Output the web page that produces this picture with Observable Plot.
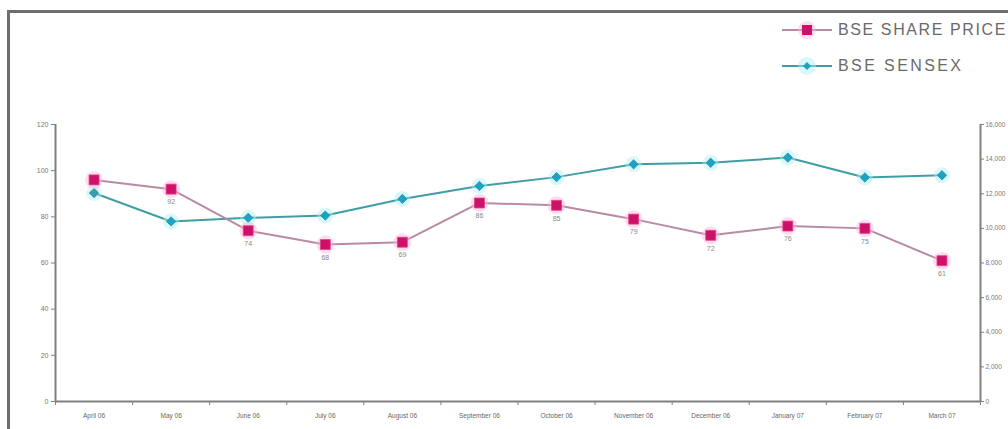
<!DOCTYPE html>
<html>
<head>
<meta charset="utf-8">
<script src="https://cdn.jsdelivr.net/npm/d3@7"></script>
<script src="https://cdn.jsdelivr.net/npm/@observablehq/plot@0.6"></script>
<style>
  html, body { margin: 0; padding: 0; background: #fff; overflow: hidden; }
  #wrap { position: relative; width: 1008px; height: 429px; overflow: hidden; font-family: "Liberation Sans", Arial, sans-serif; }
  #frame { position: absolute; left: 7px; top: 10px; width: 1100px; height: 500px; border-left: 3px solid #6e6e6e; border-top: 3px solid #6e6e6e; }
  #chart { position: absolute; left: 0; top: 0; }
  #legend { position: absolute; left: 782px; top: 19px; color: #6a6a6a; font-size: 16px; letter-spacing: 1.6px; white-space: nowrap; }
  .row { display: flex; align-items: center; height: 22px; margin-bottom: 14px; }
  .row svg { margin-right: 6px; }
  .row.second span { letter-spacing: 2.4px; }
</style>
</head>
<body>
<div id="wrap">
  <div id="frame"></div>
  <div id="chart"></div>
  <div id="legend"></div>
</div>
<script>
const months = ["April 06", "May 06", "June 06", "July 06", "August 06", "September 06", "October 06", "November 06", "December 06", "January 07", "February 07", "March 07"];
const sharePrice = [96, 92, 74, 68, 69, 86, 85, 79, 72, 76, 75, 61];
const sensex = [12040, 10400, 10610, 10740, 11700, 12450, 12960, 13700, 13790, 14090, 12940, 13070];
const leftTicks = [0, 20, 40, 60, 80, 100, 120];
const rightTicks = [0, 2000, 4000, 6000, 8000, 10000, 12000, 14000, 16000];
const seriesNames = ["BSE SHARE PRICE", "BSE SENSEX"];

const leftMax = 120, rightMax = 16000;
const toLeft = v => v / rightMax * leftMax;

const shareColor = "#cc1166", shareLine = "#b98aa2";
const sensexColor = "#1aa3c6", sensexLine = "#3f9ea4";

const rows = months.map((m, i) => ({pos: i + 0.5, month: m, share: sharePrice[i], sensex: toLeft(sensex[i])}));
const boundaries = d3.range(months.length + 1);

const chart = Plot.plot({
  width: 1008,
  height: 429,
  marginLeft: 55,
  marginRight: 28,
  marginTop: 124,
  marginBottom: 28,
  style: {fontFamily: "'Liberation Sans', Arial, sans-serif", background: "transparent", color: "#777"},
  x: {domain: [0, months.length]},
  y: {domain: [0, leftMax]},
  marks: [
    Plot.ruleY([0], {stroke: "#808080", strokeWidth: 2}),
    Plot.ruleX([0], {stroke: "#808080", strokeWidth: 2}),
    Plot.ruleX([months.length], {stroke: "#808080", strokeWidth: 2}),
    Plot.axisY({anchor: "left", ticks: leftTicks, tickSize: 4, tickPadding: 3, fontSize: 7, label: null, stroke: "#808080", fill: "#777"}),
    Plot.axisY({anchor: "right", ticks: rightTicks.map(toLeft), tickFormat: d => d3.format(",")(Math.round(d / leftMax * rightMax)), tickSize: 3, tickPadding: 2, fontSize: 6.5, label: null, stroke: "#808080", fill: "#777"}),
    Plot.axisX({ticks: boundaries, tickFormat: () => "", tickSize: 4, label: null, stroke: "#808080"}),
    Plot.axisX({ticks: rows.map(d => d.pos), tickFormat: d => months[Math.round(d - 0.5)], tickSize: 0, tickPadding: 12, fontSize: 6.5, label: null, fill: "#666"}),
    Plot.line(rows, {x: "pos", y: "sensex", stroke: sensexLine, strokeWidth: 2}),
    Plot.dot(rows, {x: "pos", y: "sensex", r: 8, fill: "#aef0f5", fillOpacity: 0.45, stroke: "none"}),
    Plot.dot(rows, {x: "pos", y: "sensex", symbol: "diamond2", r: 4.2, fill: sensexColor, stroke: "#2a8f9a", strokeWidth: 0.8}),
    Plot.line(rows, {x: "pos", y: "share", stroke: shareLine, strokeWidth: 2}),
    Plot.dot(rows, {x: "pos", y: "share", r: 9, fill: "#ffb3d6", fillOpacity: 0.45, stroke: "none"}),
    Plot.dot(rows, {x: "pos", y: "share", symbol: "square", r: 5.6, fill: shareColor, stroke: "#e0408a", strokeWidth: 0.8}),
    Plot.text(rows, {x: "pos", y: "share", text: d => String(d.share), dy: 13, fontSize: 7, fill: "#888"})
  ]
});
document.getElementById("chart").appendChild(chart);

const legend = document.getElementById("legend");
const legendItems = [
  {name: seriesNames[0], line: shareLine, fill: shareColor, halo: "#ffb3d6", shape: "square"},
  {name: seriesNames[1], line: sensexLine, fill: sensexColor, halo: "#aef0f5", shape: "diamond"}
];
legendItems.forEach((it, k) => {
  const row = document.createElement("div");
  row.className = k === 0 ? "row" : "row second";
  const marker = it.shape === "square"
    ? `<rect x="20" y="6" width="10" height="10" fill="${it.fill}"/>`
    : `<path d="M25 7 L29 11 L25 15 L21 11 Z" fill="${it.fill}"/>`;
  row.innerHTML = `<svg width="50" height="22"><line x1="0" x2="50" y1="11" y2="11" stroke="${it.line}" stroke-width="2"/><circle cx="25" cy="11" r="9" fill="${it.halo}" fill-opacity="0.45"/>${marker}</svg><span>${it.name}</span>`;
  legend.appendChild(row);
});
</script>
</body>
</html>
